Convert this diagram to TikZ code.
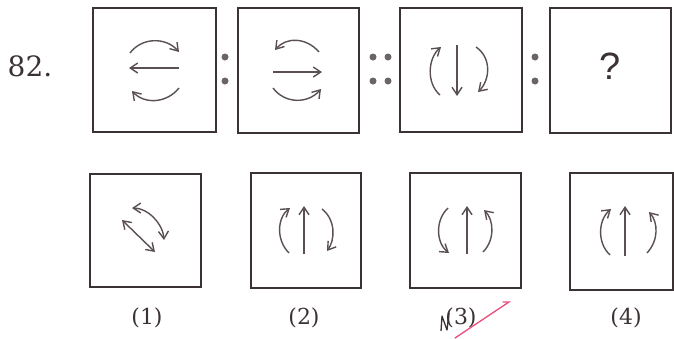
\documentclass[tikz,border=0pt]{standalone}
\usepackage{fontspec}
\newfontfamily\qfont{Liberation Sans}
\newfontfamily\numfont{DejaVu Serif}
\usetikzlibrary{arrows.meta}
\definecolor{boxc}{HTML}{3B3233}
\definecolor{arrc}{HTML}{5A5052}
\definecolor{dotc}{HTML}{6A6465}
\definecolor{penc}{HTML}{E8507E}
\begin{document}
\begin{tikzpicture}[x=1pt,y=-1pt,
  panel/.style={draw=boxc,line width=1.4pt,fill=white,inner sep=0pt},
  figarr/.style={draw=arrc,line width=1.4pt,-{Straight Barb[length=7.5pt,width=10pt]}},
  figdbl/.style={draw=arrc,line width=1.4pt,{Straight Barb[length=7.5pt,width=10pt]}-{Straight Barb[length=7.5pt,width=10pt]}},
  sep/.style={circle,fill=dotc,inner sep=0pt,minimum size=7pt},
  lbl/.style={font=\numfont\fontsize{22}{24}\selectfont,text=boxc}]
\useasboundingbox (0,0) rectangle (674,338);
% question row
\node[font=\numfont\fontsize{28}{30}\selectfont,text=boxc] (num) at (30,66) {82.};
\node[panel,minimum width=123pt,minimum height=124pt] (q1) at (154.5,70) {};
\node[panel,minimum width=121pt,minimum height=125pt] (q2) at (298.5,70.5) {};
\node[panel,minimum width=122pt,minimum height=124pt] (q3) at (461,70) {};
\node[panel,minimum width=121pt,minimum height=125pt] (q4) at (610.5,70.5) {};
\node[font=\qfont\fontsize{38}{40}\selectfont,text=boxc] (qm) at (610,66) {?};
\node[sep] (c1a) at (225,57) {};
\node[sep] (c1b) at (225,81) {};
\node[sep] (c2a) at (373,57) {};
\node[sep] (c2b) at (373,81) {};
\node[sep] (c2c) at (388,57) {};
\node[sep] (c2d) at (388,81) {};
\node[sep] (c3a) at (535,57) {};
\node[sep] (c3b) at (535,81) {};
% box 1 contents
\draw[figarr] (130,53) .. controls (142,37) and (166,37) .. (179,52);
\draw[figarr] (179,68) -- (129,68);
\draw[figarr] (179,88) .. controls (166,104) and (144,104) .. (132,91);
% box 2 contents
\draw[figarr] (319,52) .. controls (306,37) and (286,37) .. (275,50);
\draw[figarr] (273,72) -- (322,72);
\draw[figarr] (273,88) .. controls (285,104) and (308,104) .. (321,89);
% box 3 contents
\draw[figarr] (440,95) .. controls (426,83) and (428,58) .. (441,47);
\draw[figarr] (457,45) -- (457,96);
\draw[figarr] (476,47) .. controls (492,58) and (490,80) .. (478,92);
% answer row
\node[panel,minimum width=111pt,minimum height=113pt] (a1) at (145.5,230.5) {};
\node[panel,minimum width=110pt,minimum height=115pt] (a2) at (306,230.5) {};
\node[panel,minimum width=111pt,minimum height=115pt] (a3) at (465.5,230.5) {};
\node[panel,minimum width=103pt,minimum height=117pt] (a4) at (621.5,231.5) {};
% option 1
\draw[figdbl] (122,220) -- (155,252);
\draw[figdbl] (132,208) .. controls (148,208) and (163,224) .. (164,240);
% option 2
\draw[figarr] (289,253) .. controls (276,240) and (277,218) .. (290,208);
\draw[figarr] (304,254) -- (304,206);
\draw[figarr] (322,209) .. controls (336,220) and (335,240) .. (327,251);
% option 3
\draw[figarr] (448,208) .. controls (435,220) and (436,243) .. (449,253);
\draw[figarr] (467,254) -- (467,206);
\draw[figarr] (483,252) .. controls (495,240) and (494,220) .. (484,210);
% option 4
\draw[figarr] (610,255) .. controls (597,243) and (598,220) .. (611,209);
\draw[figarr] (625,256) -- (625,206);
\draw[figarr] (647,253) .. controls (659,240) and (658,222) .. (649,212);
% labels
\node[lbl] (l1) at (147,318) {(1)};
\node[lbl] (l2) at (304,318) {(2)};
\node[lbl] (l3) at (461,318) {(3)};
\node[lbl] (l4) at (626,318) {(4)};
% pen marks
\draw[boxc,line width=1.3pt,line join=round] (441,331) -- (442,316) -- (447,330) -- (449,313);
\draw[penc,line width=1.3pt,line cap=round] (455,338) -- (509,302) -- (503,302);
\end{tikzpicture}
\end{document}
